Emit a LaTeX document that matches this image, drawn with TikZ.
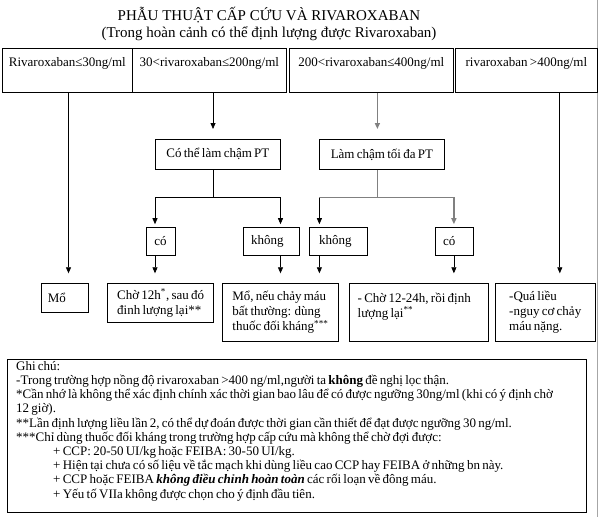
\documentclass[tikz,border=0pt]{standalone}
\usepackage{fontspec}
\setmainfont[WordSpace=0.7]{Liberation Serif}
\newfontfamily\titlefont{Liberation Serif}
\usetikzlibrary{arrows.meta,calc}
\begin{document}
\begin{tikzpicture}[x=1pt,y=-1pt,
  box/.style={draw, line width=0.75pt, inner sep=0pt, anchor=north west},
  bf/.style={font=\fontsize{13}{15}\selectfont},
  topbox/.style={box, bf, text height=18pt, text depth=26pt},
  lbox/.style={box, bf, align=left},
  arr/.style={line width=0.75pt, -{Triangle[length=6pt,width=5pt]}},
  garr/.style={arr, draw=black!50, line width=1.4pt},
  gline/.style={draw=black!50, line width=1.4pt},
  bline/.style={line width=0.75pt}]
\useasboundingbox (0,0) rectangle (599,517);
\draw[draw=black!35, line width=1.2pt] (597.8,0) -- (597.8,517);

% title
\node[font=\titlefont\fontsize{15}{17.5}\selectfont, align=center, anchor=north] (title) at (269,3.5)
  {PHẪU THUẬT CẤP CỨU VÀ RIVAROXABAN\\(Trong hoàn cảnh có thể định lượng được Rivaroxaban)};

% top boxes
\node[topbox, minimum width=130pt] (b1) at (2,48) {Rivaroxaban≤30ng/ml};
\node[topbox, minimum width=154pt] (b2) at (132,48) {30<rivaroxaban≤200ng/ml};
\node[topbox, minimum width=164pt] (b3) at (289,48) {200<rivaroxaban≤400ng/ml};
\node[topbox, minimum width=142pt] (b4) at (455,48) {rivaroxaban >400ng/ml};

% second level
\node[box, bf, minimum width=125pt, minimum height=29.5pt] (c1) at (155,139) {Có thể làm chậm PT};
\node[box, bf, minimum width=125pt, minimum height=30pt] (c2) at (319,139) {Làm chậm tối đa PT};

% third level
\node[box, bf, minimum width=29pt, minimum height=28.3pt] (d1) at (145.7,226.7) {có};
\node[lbox, minimum width=56.8pt, minimum height=28.3pt] (d2) at (242.5,226.7) {không\hspace*{8pt}};
\node[lbox, minimum width=58pt, minimum height=28.3pt] (d3) at (309.3,226.7) {không\hspace*{6.5pt}};
\node[lbox, minimum width=38.8pt, minimum height=28.3pt] (d4) at (434.5,226.7) {có\hspace*{10pt}};

% fourth level
\node[lbox, minimum width=47.6pt, minimum height=29pt] (e1) at (40.7,283.3) {Mổ\hspace*{16pt}};
\node[lbox, minimum width=106pt, minimum height=38.7pt] (e2) at (107.3,283.3)
  {Chờ 12h\textsuperscript{*}, sau đó\\đinh lượng lại**};
\node[lbox, minimum width=115.4pt, minimum height=57.7pt] (e3) at (222.3,283.3)
  {Mổ, nếu chảy máu\\bất thường: dùng\\thuốc đối kháng\textsuperscript{***}};
\node[lbox, minimum width=139.3pt, minimum height=57.7pt] (e4) at (349,283.3)
  {- Chờ 12-24h, rồi định\hspace*{9.5pt}\\lượng lại\textsuperscript{**}\\\mbox{}};
\node[lbox, minimum width=99.7pt, minimum height=57.7pt] (e5) at (495,283.3)
  {-Quá liều\\-nguy cơ chảy\hspace*{6.5pt}\\máu nặng.};

% notes
\node[box, minimum width=578.7pt, minimum height=153.2pt] (notes) at (7.3,358.5) {};
\node[anchor=north west, inner sep=0pt, align=left, font=\fontsize{13}{14.2}\selectfont] (ntext)
  at ($(notes.north west)+(8.7,1.5)$)
  {\rule{0pt}{10pt}Ghi chú:\\
  -Trong trường hợp nồng độ rivaroxaban >400 ng/ml,người ta \textbf{không} đề nghị lọc thận.\\
  *Cần nhớ là không thể xác định chính xác thời gian bao lâu để có được ngưỡng 30ng/ml (khi có ý định chờ\\
  12 giờ).\\
  **Lần định lượng liều lần 2, có thể dự đoán được thời gian cần thiết để đạt được ngưỡng 30 ng/ml.\\
  ***Chỉ dùng thuốc đối kháng trong trường hợp cấp cứu mà không thể chờ đợi được:\\
  \hspace*{37pt}+ CCP: 20-50 UI/kg hoặc FEIBA: 30-50 UI/kg.\\
  \hspace*{37pt}+ Hiện tại chưa có số liệu về tắc mạch khi dùng liều cao CCP hay FEIBA ở những bn này.\\
  \hspace*{37pt}+ CCP hoặc FEIBA \textbf{\textit{không điều chỉnh hoàn toàn}} các rối loạn về đông máu.\\
  \hspace*{37pt}+ Yếu tố VIIa không được chọn cho ý định đầu tiên.};

% connector x positions
\coordinate (x1) at (68.5,0);
\coordinate (x2) at (213,0);
\coordinate (x3) at (377.4,0);
\coordinate (x4) at (559.8,0);
\coordinate (xa) at (155,0);
\coordinate (xb) at (280.5,0);
\coordinate (xc) at (319.4,0);
\coordinate (xd) at (453.9,0);
\coordinate (j1) at (213,197);
\coordinate (j2) at (377.4,197.5);

% top connectors
\draw[arr, shorten >=10pt] (b1.south -| x1) -- (e1.north -| x1);
\draw[arr, shorten >=10pt] (b2.south -| x2) -- (c1.north -| x2);
\draw[garr, shorten >=10pt] (b3.south -| x3) -- (c2.north -| x3);
\draw[arr, shorten >=10pt] (b4.south -| x4) -- (e5.north -| x4);

% fork 1
\draw[bline] (c1.south -| j1) -- (j1);
\draw[arr, shorten >=2.5pt] (j1) -| (d1.north -| xa);
\draw[arr, shorten >=2.5pt] (j1) -| (d2.north -| xb);

% fork 2
\draw[gline] (c2.south -| j2) -- (j2);
\draw[arr, shorten >=2.5pt] (j2) -| (d3.north -| xc);
\draw[gline] (j2) -- (j2 -| xc);
\draw[garr, shorten >=2.5pt] (j2) -| (d4.north -| xd);

% bottom connectors
\draw[arr, shorten >=10pt] (d1.south -| xa) -- (e2.north -| xa);
\draw[arr, shorten >=10pt] (d2.south -| xb) -- (e3.north -| xb);
\draw[arr, shorten >=10pt] (d3.south -| xc) -- (e3.north -| xc);
\draw[arr, shorten >=10pt] (d4.south -| xd) -- (e4.north -| xd);
\end{tikzpicture}
\end{document}
